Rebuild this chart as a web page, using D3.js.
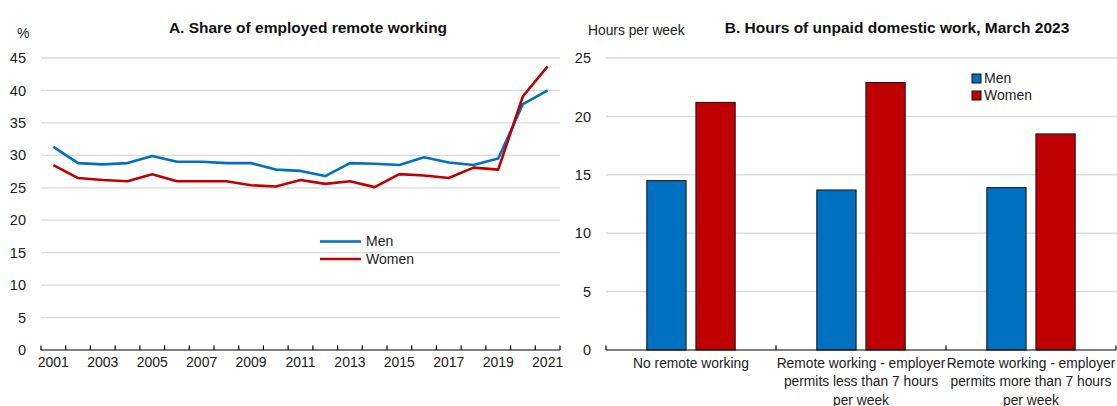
<!DOCTYPE html>
<html>
<head>
    <meta charset="UTF-8">
    <title>Remote working and unpaid domestic work</title>
    <script src="https://d3js.org/d3.v7.min.js"></script>
    <style>
        body { margin: 0; background: #fff; }
        svg { font-family: "Liberation Sans", Arial, sans-serif; }
        .tick text { font-size: 14.5px; fill: #222; }
        .grid line { stroke: #d9d9d9; stroke-width: 1.3px; }
    </style>
</head>
<body>
    <svg></svg>
    <script>
        // Panel A data
        const years = d3.range(2001, 2022);
        const menShare = [31.3, 28.8, 28.6, 28.8, 29.9, 29.0, 29.0, 28.8, 28.8, 27.8, 27.6, 26.8,
                          28.8, 28.7, 28.5, 29.7, 28.9, 28.5, 29.5, 37.9, 40.0];
        const womenShare = [28.5, 26.5, 26.2, 26.0, 27.1, 26.0, 26.0, 26.0, 25.4, 25.2, 26.2, 25.6,
                            26.0, 25.1, 27.1, 26.9, 26.5, 28.1, 27.8, 39.1, 43.7];
        const yTicksA = [0, 5, 10, 15, 20, 25, 30, 35, 40, 45];
        const yearLabels = [2001, 2003, 2005, 2007, 2009, 2011, 2013, 2015, 2017, 2019, 2021];

        // Panel B data
        const categories = ['No remote working', 'Remote less than 7', 'Remote more than 7'];
        const categoryLines = [
            ['No remote working'],
            ['Remote working - employer', 'permits less than 7 hours', 'per week'],
            ['Remote working - employer', 'permits more than 7 hours', 'per week']
        ];
        const menHours = [14.5, 13.7, 13.9];
        const womenHours = [21.2, 22.9, 18.5];
        const yTicksB = [0, 5, 10, 15, 20, 25];

        const series = ['Men', 'Women'];
        const color = d3.scaleOrdinal().domain(series).range(['#0070c0', '#c00000']);

        const svg = d3.select('svg')
            .attr('width', 1117)
            .attr('height', 406);

        // ---------- Panel A ----------
        const xA = d3.scaleBand().domain(years).range([41, 560]);
        const yA = d3.scaleLinear().domain([0, 45]).range([350, 58]);

        const gA = svg.append('g');

        gA.append('g')
            .attr('class', 'grid')
            .selectAll('line')
            .data(yTicksA.filter(d => d > 0))
            .enter().append('line')
            .attr('x1', 41).attr('x2', 560)
            .attr('y1', d => yA(d)).attr('y2', d => yA(d));

        gA.append('g')
            .attr('transform', 'translate(26,0)')
            .call(d3.axisLeft(yA).tickValues(yTicksA).tickSize(0).tickPadding(0))
            .call(g => g.select('.domain').remove());

        // x axis: ticks on year boundaries, labels every other year
        const xAxisA = gA.append('g').attr('transform', 'translate(0,350)');
        xAxisA.append('line')
            .attr('x1', 41).attr('x2', 560)
            .attr('stroke', '#000').attr('stroke-width', 1.2);
        xAxisA.selectAll('.bnd')
            .data(years.map(d => xA(d)).concat([xA.range()[1]]))
            .enter().append('line')
            .attr('class', 'bnd')
            .attr('x1', d => d).attr('x2', d => d)
            .attr('y1', 0).attr('y2', -4.5)
            .attr('stroke', '#000').attr('stroke-width', 1.2);
        xAxisA.selectAll('.lbl')
            .data(yearLabels)
            .enter().append('text')
            .attr('class', 'lbl')
            .attr('x', d => xA(d) + xA.bandwidth() / 2)
            .attr('y', 17)
            .attr('text-anchor', 'middle')
            .attr('font-size', '14px')
            .attr('fill', '#222')
            .text(d => d);

        const line = d3.line()
            .x((d, i) => xA(years[i]) + xA.bandwidth() / 2)
            .y(d => yA(d));

        [['Men', menShare], ['Women', womenShare]].forEach(([name, vals]) => {
            gA.append('path')
                .datum(vals)
                .attr('fill', 'none')
                .attr('stroke', color(name))
                .attr('stroke-width', 2.6)
                .attr('stroke-linejoin', 'round')
                .attr('d', line);
        });

        const legA = gA.selectAll('.legA')
            .data(series)
            .enter().append('g')
            .attr('transform', (d, i) => `translate(320,${241.5 + i * 17.5})`);
        legA.append('line')
            .attr('x1', 0).attr('x2', 41)
            .attr('stroke', d => color(d)).attr('stroke-width', 2.6);
        legA.append('text')
            .attr('x', 46).attr('dy', '0.35em')
            .attr('font-size', '14px').attr('fill', '#222')
            .text(d => d);

        gA.append('text')
            .attr('x', 308).attr('y', 32.5)
            .attr('text-anchor', 'middle')
            .attr('font-size', '15.5px').attr('font-weight', 'bold')
            .attr('fill', '#111')
            .text('A. Share of employed remote working');

        gA.append('text')
            .attr('x', 17).attr('y', 37.5)
            .attr('font-size', '14px').attr('fill', '#222')
            .text('%');

        // ---------- Panel B ----------
        const xB = d3.scaleBand().domain(categories).range([606, 1116]);
        const bw = xB.bandwidth();
        const xB1 = d3.scaleBand().domain(series).range([0.24 * bw, 0.76 * bw]).paddingInner(0.2);
        const yB = d3.scaleLinear().domain([0, 25]).range([350, 58]);

        const gB = svg.append('g');

        gB.append('g')
            .attr('class', 'grid')
            .selectAll('line')
            .data(yTicksB.filter(d => d > 0))
            .enter().append('line')
            .attr('x1', 606).attr('x2', 1117)
            .attr('y1', d => yB(d)).attr('y2', d => yB(d));

        gB.append('g')
            .attr('transform', 'translate(591,0)')
            .call(d3.axisLeft(yB).tickValues(yTicksB).tickSize(0).tickPadding(0))
            .call(g => g.select('.domain').remove());

        const barData = categories.map((c, i) => ({ cat: c, values: [
            { key: 'Men', value: menHours[i] },
            { key: 'Women', value: womenHours[i] }
        ]}));

        gB.selectAll('.grp')
            .data(barData)
            .enter().append('g')
            .attr('class', 'grp')
            .attr('transform', d => `translate(${xB(d.cat)},0)`)
            .selectAll('rect')
            .data(d => d.values)
            .enter().append('rect')
            .attr('x', d => xB1(d.key))
            .attr('y', d => yB(d.value))
            .attr('width', xB1.bandwidth())
            .attr('height', d => yB(0) - yB(d.value))
            .attr('fill', d => color(d.key))
            .attr('stroke', '#111')
            .attr('stroke-width', 1);

        const xAxisB = gB.append('g').attr('transform', 'translate(0,350)');
        xAxisB.append('line')
            .attr('x1', 606).attr('x2', 1116)
            .attr('stroke', '#000').attr('stroke-width', 1.2);
        xAxisB.selectAll('.bnd')
            .data(categories.map(d => xB(d)).concat([xB.range()[1]]))
            .enter().append('line')
            .attr('class', 'bnd')
            .attr('x1', d => d).attr('x2', d => d)
            .attr('y1', 0).attr('y2', -4.5)
            .attr('stroke', '#000').attr('stroke-width', 1.2);
        const labB = xAxisB.selectAll('.lbl')
            .data(categories)
            .enter().append('text')
            .attr('class', 'lbl')
            .attr('text-anchor', 'middle')
            .attr('font-size', '13.8px')
            .attr('fill', '#222');
        labB.selectAll('tspan')
            .data((d, i) => categoryLines[i].map(t => ({ t, c: d })))
            .enter().append('tspan')
            .attr('x', d => xB(d.c) + bw / 2)
            .attr('y', (d, j) => 17.5 + j * 18.5)
            .text(d => d.t);

        const legB = gB.selectAll('.legB')
            .data(series)
            .enter().append('g')
            .attr('transform', (d, i) => `translate(972,${74 + i * 17})`);
        legB.append('rect')
            .attr('width', 9).attr('height', 9)
            .attr('fill', d => color(d))
            .attr('stroke', '#111').attr('stroke-width', 1);
        legB.append('text')
            .attr('x', 12).attr('y', 4.5).attr('dy', '0.35em')
            .attr('font-size', '14px').attr('fill', '#222')
            .text(d => d);

        gB.append('text')
            .attr('x', 897).attr('y', 32.5)
            .attr('text-anchor', 'middle')
            .attr('font-size', '15.5px').attr('font-weight', 'bold')
            .attr('fill', '#111')
            .text('B. Hours of unpaid domestic work, March 2023');

        gB.append('text')
            .attr('x', 588).attr('y', 35)
            .attr('font-size', '13.8px').attr('fill', '#222')
            .text('Hours per week');
    </script>
</body>
</html>
